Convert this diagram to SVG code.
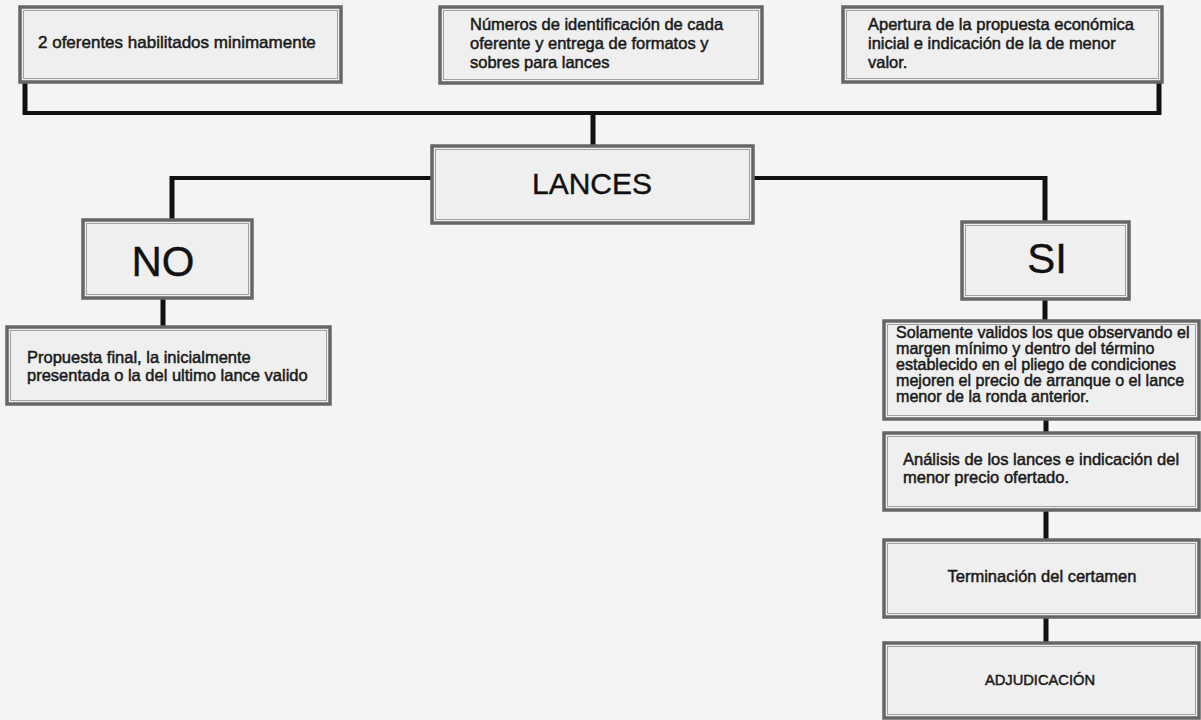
<svg xmlns="http://www.w3.org/2000/svg" width="1201" height="720" viewBox="0 0 1201 720">
<style>
.box{fill:#efefef;stroke:#666;stroke-width:3.5}
.inner{fill:none;stroke:#a0a0a0;stroke-width:1}
.t{font-family:"Liberation Sans",Arial,sans-serif;font-size:16.5px;fill:#1a1a1a;stroke:#1a1a1a;stroke-width:0.5}
.s{font-size:16.1px}
.c{text-anchor:middle}
.big{font-family:"Liberation Sans",Arial,sans-serif;fill:#111;text-anchor:middle;stroke:#111;stroke-width:0.4}
.h{fill:none;stroke:#111;stroke-width:4}
.v{fill:none;stroke:#111;stroke-width:5}
</style>
<rect x="0" y="0" width="1201" height="720" fill="#f4f4f4"/>
<g id="connectors">
<path class="h" d="M25,113 H1159"/>
<path class="v" d="M25,82 V115 M1159,82 V115"/>
<path class="v" d="M593,113 V146"/>
<path class="h" d="M432,178 H172"/>
<path class="v" d="M172,176 V220"/>
<path class="h" d="M753,178 H1045"/>
<path class="v" d="M1045,176 V222"/>
<path class="v" d="M163,298 V327"/>
<path class="v" d="M1045,299 V321"/>
<path class="v" d="M1046,419 V433"/>
<path class="v" d="M1046,510 V540"/>
<path class="v" d="M1046,617 V643"/>
</g>
<g id="n1">
<rect class="box" x="20" y="7" width="321" height="75"/>
<rect class="inner" x="23.5" y="10.5" width="314" height="68"/>
<text class="t" x="38" y="48" style="font-size:17px">2 oferentes habilitados minimamente</text>
</g>
<g id="n2">
<rect class="box" x="440" y="7" width="322" height="76"/>
<rect class="inner" x="443.5" y="10.5" width="315" height="69"/>
<text class="t" x="470" y="30">Números de identificación de cada</text>
<text class="t" x="470" y="49">oferente y entrega de formatos y</text>
<text class="t" x="470" y="68">sobres para lances</text>
</g>
<g id="n3">
<rect class="box" x="843" y="7" width="319" height="75"/>
<rect class="inner" x="846.5" y="10.5" width="312" height="68"/>
<text class="t" x="868" y="30">Apertura de la propuesta económica</text>
<text class="t" x="868" y="49">inicial e indicación de la de menor</text>
<text class="t" x="868" y="68">valor.</text>
</g>
<g id="lances">
<rect class="box" x="432" y="146" width="321" height="77"/>
<rect class="inner" x="435.5" y="149.5" width="314" height="70"/>
<text class="big" x="592" y="194" font-size="30">LANCES</text>
</g>
<g id="no">
<rect class="box" x="83" y="220" width="169" height="78"/>
<rect class="inner" x="86.5" y="223.5" width="162" height="71"/>
<text class="big" x="163" y="276" font-size="42">NO</text>
</g>
<g id="si">
<rect class="box" x="962" y="222" width="167" height="77"/>
<rect class="inner" x="965.5" y="225.5" width="160" height="70"/>
<text class="big" x="1047" y="273" font-size="42">SI</text>
</g>
<g id="propuesta">
<rect class="box" x="7" y="327" width="323" height="77"/>
<rect class="inner" x="10.5" y="330.5" width="316" height="70"/>
<text class="t" x="27" y="363">Propuesta final, la inicialmente</text>
<text class="t" x="27" y="381">presentada o la del ultimo lance valido</text>
</g>
<g id="solamente">
<rect class="box" x="884" y="321" width="315" height="98"/>
<rect class="inner" x="887.5" y="324.5" width="308" height="91"/>
<text class="t s" x="896" y="338">Solamente validos los que observando el</text>
<text class="t s" x="896" y="354">margen mínimo y dentro del término</text>
<text class="t s" x="896" y="370">establecido en el pliego de condiciones</text>
<text class="t s" x="896" y="386">mejoren el precio de arranque o el lance</text>
<text class="t s" x="896" y="402">menor de la ronda anterior.</text>
</g>
<g id="analisis">
<rect class="box" x="884" y="433" width="315" height="77"/>
<rect class="inner" x="887.5" y="436.5" width="308" height="70"/>
<text class="t" x="903" y="465">Análisis de los lances e indicación del</text>
<text class="t" x="903" y="483">menor precio ofertado.</text>
</g>
<g id="terminacion">
<rect class="box" x="884" y="540" width="315" height="77"/>
<rect class="inner" x="887.5" y="543.5" width="308" height="70"/>
<text class="t c" x="1042" y="582">Terminación del certamen</text>
</g>
<g id="adjudicacion">
<rect class="box" x="884" y="643" width="315" height="75"/>
<rect class="inner" x="887.5" y="646.5" width="308" height="68"/>
<text class="t c" x="1040" y="685" style="font-size:14.7px">ADJUDICACIÓN</text>
</g>
</svg>
